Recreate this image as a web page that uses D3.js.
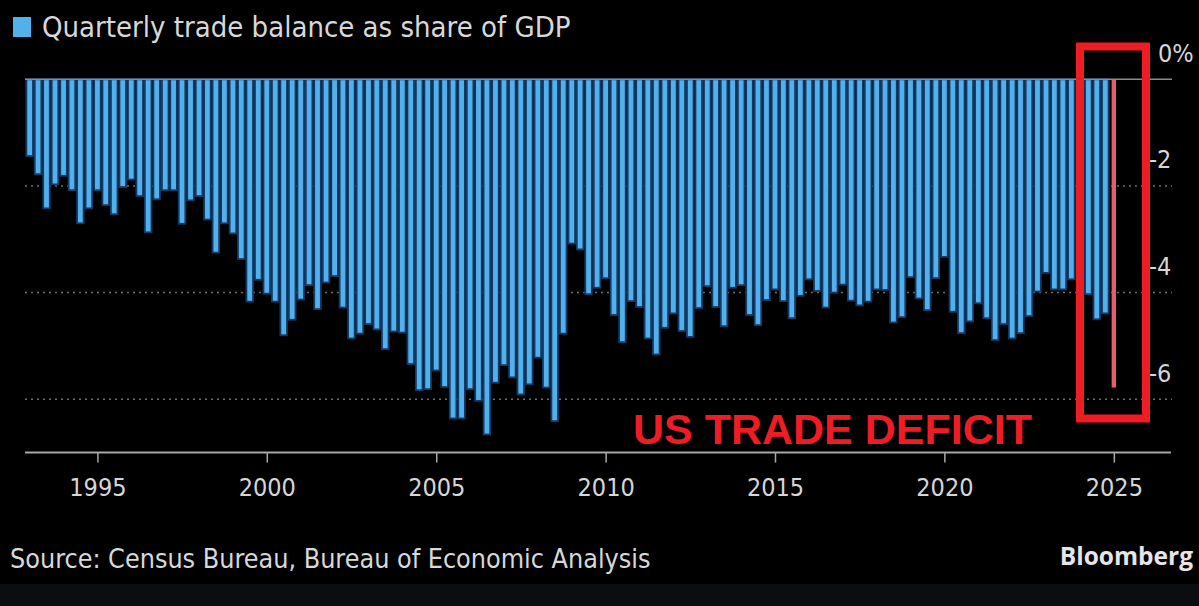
<!DOCTYPE html>
<html>
<head>
<meta charset="utf-8">
<script src="https://cdn.jsdelivr.net/npm/d3@7"></script>
<style>
  html, body { margin: 0; padding: 0; background: #000; }
  svg { display: block; }
  .cond { font-family: "DejaVu Sans Condensed", "Liberation Sans Narrow", "Roboto Condensed", Roboto, sans-serif; }
</style>
</head>
<body>
<div id="container"></div>
<script>
/* DATA */
// quarterly US trade balance, % of GDP, starting 1993 Q1
const startYear = 1993;
const deficit = [
  1.44, 1.78, 2.42, 1.97,   // 1993
  1.81, 2.08, 2.70, 2.42,   // 1994
  2.08, 2.36, 2.53, 2.02,   // 1995
  1.88, 2.19, 2.87, 2.25,   // 1996
  2.08, 2.08, 2.71, 2.27,   // 1997
  2.19, 2.63, 3.25, 2.70,   // 1998
  2.89, 3.37, 4.17, 3.76,   // 1999
  4.02, 4.17, 4.80, 4.51,   // 2000
  4.13, 3.86, 4.31, 3.81,   // 2001
  3.69, 4.28, 4.86, 4.77,   // 2002
  4.59, 4.69, 5.06, 4.73,   // 2003
  4.75, 5.34, 5.83, 5.81,   // 2004
  5.46, 5.77, 6.36, 6.36,   // 2005
  5.81, 6.03, 6.66, 5.69,   // 2006
  5.36, 5.59, 5.91, 5.72,   // 2007
  5.22, 5.78, 6.41, 4.77,   // 2008
  3.08, 3.19, 4.03, 3.91,   // 2009
  3.73, 4.42, 4.93, 4.16,   // 2010
  4.27, 4.86, 5.16, 4.66,   // 2011
  4.39, 4.72, 4.83, 4.29,   // 2012
  3.88, 4.27, 4.63, 3.91,   // 2013
  3.86, 4.42, 4.61, 4.14,   // 2014
  3.94, 4.16, 4.48, 4.06,   // 2015
  3.75, 3.97, 4.28, 4.00,   // 2016
  3.85, 4.15, 4.24, 4.17,   // 2017
  3.94, 3.95, 4.56, 4.46,   // 2018
  3.71, 4.11, 4.33, 3.73,   // 2019
  3.33, 4.36, 4.76, 4.54,   // 2020
  4.20, 4.48, 4.89, 4.59,   // 2021
  4.86, 4.76, 4.44, 3.98,   // 2022
  3.63, 3.94, 3.94, 3.75,   // 2023
  3.80, 4.03, 4.50, 4.39,   // 2024
  5.78                      // 2025 Q1
];
const yearTicks = [1995, 2000, 2005, 2010, 2015, 2020, 2025];
const valueTicks = [0, -2, -4, -6];
const legendLabel = "Quarterly trade balance as share of GDP";
const sourceLabel = "Source: Census Bureau, Bureau of Economic Analysis";
const annotation = "US TRADE DEFICIT";

/* CONSTANTS */
const width = 1199, height = 606;
const blue = "#52b0ea", edge = "#123a66", red = "#ee1d24";

const bars = deficit.map((v, i) => ({
  date: new Date(startYear + Math.floor(i / 4), (i % 4) * 3, 1),
  value: -v,
  last: i === deficit.length - 1
}));

/* SCALES */
const x = d3.scaleTime()
  .domain([new Date(1993, 0, 1), new Date(2026, 0, 1)])
  .range([29.7, 1147.7]);
const y = d3.scaleLinear()
  .domain([0, -7])
  .range([79.3, 452.6]);

const svg = d3.select("#container").append("svg")
  .attr("width", width)
  .attr("height", height)
  .style("background", "#000");

// faint strip at the very bottom of the screenshot
svg.append("rect").attr("x", 0).attr("y", 584).attr("width", width).attr("height", 22).attr("fill", "#0c0d10");

/* GRIDLINES */
svg.append("g").selectAll("line")
  .data(valueTicks.filter(d => d !== 0))
  .join("line")
  .attr("x1", 25).attr("x2", 1172)
  .attr("y1", d => y(d)).attr("y2", d => y(d))
  .attr("stroke", "#6e6e6e")
  .attr("stroke-width", 1.5)
  .attr("stroke-dasharray", "2,4");

/* BARS */
svg.append("g").selectAll("rect.bar")
  .data(bars.filter(d => !d.last))
  .join("rect")
  .attr("class", "bar")
  .attr("x", d => x(d.date) - 3.3)
  .attr("y", y(0))
  .attr("width", 6.6)
  .attr("height", d => y(d.value) - y(0))
  .attr("fill", blue)
  .attr("stroke", edge)
  .attr("stroke-width", 1.8);

svg.append("g").selectAll("rect.latest")
  .data(bars.filter(d => d.last))
  .join("rect")
  .attr("class", "latest")
  .attr("x", d => x(d.date) - 2.2)
  .attr("y", y(0))
  .attr("width", 4.4)
  .attr("height", d => y(d.value) - y(0))
  .attr("fill", "#e2606a");

// zero line
svg.append("line")
  .attr("x1", 25).attr("x2", 1172)
  .attr("y1", y(0)).attr("y2", y(0))
  .attr("stroke", "#8c8c8c").attr("stroke-width", 1.5);

/* AXES */
const xAxis = d3.axisBottom(x)
  .tickValues(yearTicks.map(yr => new Date(yr, 0, 1)))
  .tickSize(10)
  .tickPadding(16)
  .tickFormat(d3.timeFormat("%Y"));

const gx = svg.append("g")
  .attr("transform", `translate(0,${y(-7)})`)
  .call(xAxis);
gx.select(".domain").remove();
gx.selectAll(".tick line").attr("stroke", "#a8a8a8").attr("stroke-width", 1.5);
gx.selectAll(".tick text")
  .attr("class", "cond")
  .attr("fill", "#d6d6d6")
  .style("font-size", "25px");
svg.append("line")
  .attr("x1", 25).attr("x2", 1171)
  .attr("y1", y(-7)).attr("y2", y(-7))
  .attr("stroke", "#a8a8a8").attr("stroke-width", 2);

const yAxis = d3.axisRight(y)
  .tickValues(valueTicks)
  .tickSize(0)
  .tickFormat(d => d === 0 ? "0%" : String(d));

const gy = svg.append("g")
  .attr("transform", "translate(1149,0)")
  .call(yAxis);
gy.select(".domain").remove();
gy.selectAll(".tick text")
  .attr("class", "cond")
  .attr("x", d => d === 0 ? 9 : 0)
  .attr("dy", -18)
  .attr("text-anchor", "start")
  .attr("fill", "#d6d6d6")
  .style("font-size", "25px");

/* HIGHLIGHT BOX + ANNOTATION */
svg.append("rect")
  .attr("x", 1080).attr("y", 46.5)
  .attr("width", 66).attr("height", 372)
  .attr("fill", "none")
  .attr("stroke", red)
  .attr("stroke-width", 8);

svg.append("text")
  .attr("x", 633).attr("y", 444)
  .attr("fill", red)
  .style("font-family", "'Liberation Sans', Arial, sans-serif")
  .style("font-weight", "bold")
  .style("font-size", "43px")
  .text(annotation);

/* LEGEND */
svg.append("rect")
  .attr("x", 13).attr("y", 17)
  .attr("width", 18).attr("height", 20)
  .attr("fill", blue);
svg.append("text")
  .attr("class", "cond")
  .attr("x", 42).attr("y", 37)
  .attr("fill", "#d8d8d8")
  .style("font-size", "29px")
  .text(legendLabel);

/* FOOTER */
svg.append("text")
  .attr("class", "cond")
  .attr("x", 10).attr("y", 568)
  .attr("fill", "#d8d8d8")
  .style("font-size", "26.7px")
  .text(sourceLabel);

svg.append("text")
  .attr("x", 1193).attr("y", 565)
  .attr("text-anchor", "end")
  .attr("fill", "#e6e6e6")
  .style("font-family", "'Open Sans', 'Liberation Sans', sans-serif")
  .style("font-weight", "bold")
  .style("font-size", "24.5px")
  .text("Bloomberg");
</script>
</body>
</html>
